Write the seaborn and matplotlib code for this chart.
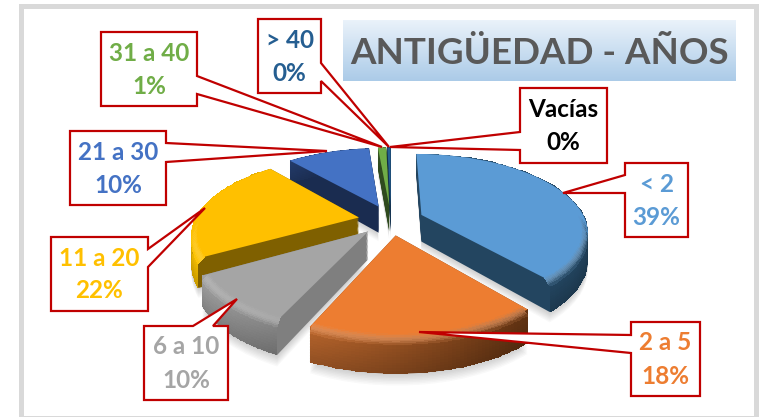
import numpy as np
import seaborn as sns
from matplotlib import pyplot as plt
from matplotlib.patches import Rectangle
from matplotlib.transforms import Transform

# slices, clockwise from 12 o'clock
categories = ["< 2", "2 a 5", "6 a 10", "11 a 20", "21 a 30", "31 a 40", "> 40", "Vacías"]
shares = [39, 18, 10, 22, 10, 1, 0.4, 0]
share_labels = ["39%", "18%", "10%", "22%", "10%", "1%", "0%", "0%"]
title = "ANTIGÜEDAD - AÑOS"

slice_colors = sns.color_palette(["#5b9bd5", "#ed7d31", "#a5a5a5", "#ffc000", "#4472c4", "#70ad47", "#255e91", "#000000"])
wall_colors = ["#234560", "#7a4016", "#7f7f7f", "#7f6000", "#1a2c50", "#2f4a1e", "#143350", "#000000"]
rim_left = ["#2a5270", "#b8652c", "#a2a2a2", "#fcc200", "#243c6c", "#3a5a26", "#143350", "#000000"]
rim_right = ["#234560", "#5c2f10", "#707070", "#c89800", "#1a2c50", "#2f4a1e", "#143350", "#000000"]
text_colors = ["#5b9bd5", "#ed7d31", "#a5a5a5", "#ffc000", "#4472c4", "#70ad47", "#255e91", "#000000"]
draw_order = [7, 6, 4, 5, 0, 3, 2, 1]

# pie placement in pixels
CX, CY, RX, RY, TILT, DEPTH = 391, 220, 164, 75, 0.2, 27

# callout layout in pixels: box (x0, y0, x1, y1), leader tip, leader base on the box
callouts = {
    "< 2": ((625, 163, 688, 237), (563, 193), [(625, 193), (625, 175)]),
    "2 a 5": ((631, 322, 700, 396), (419, 332), [(631, 353), (631, 335)]),
    "6 a 10": ((144, 326, 228, 400), (237, 299), [(193, 326), (213, 326)]),
    "11 a 20": ((51, 237, 148, 311), (205, 208), [(148, 249), (148, 267)]),
    "21 a 30": ((70, 131, 166, 205), (327, 151), [(166, 143), (166, 162)]),
    "31 a 40": ((101, 32, 197, 106), (382, 147), [(197, 76), (197, 94)]),
    "> 40": ((258, 19, 321, 93), (389, 147), [(321, 63), (321, 81)]),
    "Vacías": ((520, 88, 607, 163), (390, 147), [(520, 150), (520, 132)]),
}


class PieTilt(Transform):
    # lays the flat pie down in perspective, drop pushes it down in pixels
    input_dims = 2
    output_dims = 2

    def __init__(self, drop=0):
        super().__init__()
        self.drop = drop

    def transform_non_affine(self, values):
        x, y = np.asarray(values).T
        s = 1 / (1 + TILT * y)
        return np.column_stack([CX + x * RX * s, CY - y * RY * s + self.drop * s])


def rgb(color):
    return np.array(sns.color_palette([color])[0])


def laid_pie(ax, drop, colors, z, alpha=None):
    wedges, _ = ax.pie(shares, explode=[0.2] * len(shares), startangle=90, counterclock=False,
                       colors=colors, wedgeprops={"linewidth": 0, "alpha": alpha})
    for i, w in enumerate(wedges):
        w.set_transform(PieTilt(drop) + ax.transData)
        w.set_zorder(draw_order.index(i) + z)
    return wedges


def rim_mesh(ax, wedge, i, v, radius, drop, z, bevel=False):
    theta = np.radians(np.linspace(wedge.theta1, wedge.theta2, 60))
    cx, cy = wedge.center
    xs, ys = [], []
    for r, d in zip(radius, drop):
        pts = np.column_stack([cx + r * np.cos(theta), cy + r * np.sin(theta)])
        out = PieTilt(d).transform(pts)
        xs.append(out[:, 0])
        ys.append(out[:, 1])
    xs, ys = np.array(xs), np.array(ys)
    mid_x = (xs[0, :-1] + xs[0, 1:]) / 2
    t = np.clip((mid_x - (CX - RX * 1.15)) / (2.3 * RX), 0, 1)
    t = (t - t.min()) / max(t.max() - t.min(), 1e-6) * (t.max() * 0.6 + 0.4)
    left, right = rgb(rim_left[i]), rgb(rim_right[i])
    base = left[None, :] * (1 - t[:, None]) + right[None, :] * t[:, None]
    front = np.clip(-np.sin((theta[:-1] + theta[1:]) / 2) * 2.5, 0, 1)
    vm = (v[:-1] + v[1:]) / 2
    rgba = np.ones((len(vm), len(t), 4))
    for k, vv in enumerate(vm):
        if bevel:
            glow = np.sin(np.pi * vv) * 0.16
            c = rgb(slice_colors[i]) * (1 - vv) + base * vv
            rgba[k, :, :3] = np.clip(c + glow * (1 - c), 0, 1)
            rgba[k, :, 3] = front
        else:
            rgba[k, :, :3] = base * (0.8 + 0.2 * (1 - vv))
    ax.pcolormesh(xs, ys, rgba, shading="flat", zorder=draw_order.index(i) + z, antialiased=False, linewidth=0)


sns.set_theme(style="white")
plt.rcParams["font.family"] = ["Lato", "DejaVu Sans"]

fig = plt.figure(figsize=(7.63, 4.17), dpi=100, facecolor="white")
ax = fig.add_axes([0, 0, 1, 1])

# soft shadow under the pie
for d in np.linspace(DEPTH + 9, DEPTH + 1, 8):
    laid_pie(ax, d, ["#404040"] * len(shares), -1, alpha=0.03)

# extruded walls, then the curved rim, then the top face and its bevel
for d in np.linspace(DEPTH, 0, 24):
    laid_pie(ax, d, wall_colors, 0.1)
top = laid_pie(ax, 0, slice_colors, 0.6)

for i, w in enumerate(top):
    if shares[i] == 0:
        continue
    v = np.linspace(0, 1, 14)
    rim_mesh(ax, w, i, v, np.ones_like(v), v * DEPTH, 0.4)
    b = np.linspace(0, 1, 8)
    rim_mesh(ax, w, i, b, 0.965 + 0.035 * b, b * 5, 0.7, bevel=True)

# chart frame
ax.add_patch(Rectangle((20.5, 5.5), 735, 412, fill=False, edgecolor="#d9d9d9", linewidth=3.6, zorder=30))

# title band with a soft vertical gradient
band = np.linspace(0, 1, 60)[:, None, None] * (rgb("#abcbe8") - rgb("#eaf2fa"))[None, None, :] + rgb("#eaf2fa")
ax.imshow(band, extent=(343, 736, 81, 20), aspect="auto", zorder=10)
ax.text(540, 53, title, color="#595959", fontsize=26.5, fontweight="bold", ha="center", va="center", zorder=11)

# callouts
for i, name in enumerate(categories):
    (x0, y0, x1, y1), tip, base = callouts[name]
    corners = [(x0, y0), (x1, y0), (x1, y1), (x0, y1)]
    # walk the box and slip the leader in on the side that holds its base
    poly = []
    for c in range(4):
        a, b = corners[c], corners[(c + 1) % 4]
        poly.append(a)
        on_side = all((a[0] == p[0] == b[0]) or (a[1] == p[1] == b[1]) for p in base)
        if on_side:
            poly += [base[0], tip, base[1]]
    px, py = zip(*poly)
    ax.fill(px, py, facecolor="white", edgecolor="#c00000", linewidth=1.6, joinstyle="miter", zorder=20)
    mid = (x0 + x1) / 2
    ax.text(mid, y0 + 21, name, color=text_colors[i], fontsize=17.5, fontweight="bold", ha="center", va="center", zorder=21)
    ax.text(mid, y0 + 54, share_labels[i], color=text_colors[i], fontsize=17.5, fontweight="bold", ha="center", va="center", zorder=21)

ax.set_aspect("auto")
ax.set_xlim(0, 763)
ax.set_ylim(417, 0)
ax.axis("off")
fig.savefig("out.png", dpi=100, facecolor="white")
